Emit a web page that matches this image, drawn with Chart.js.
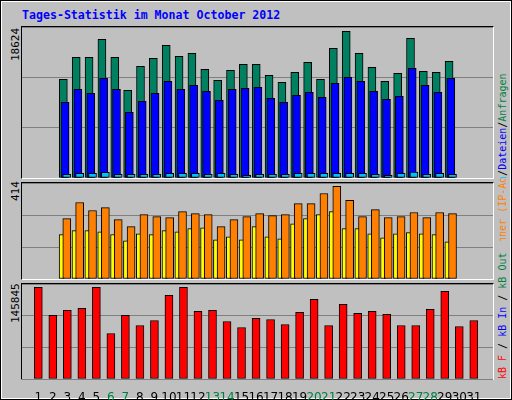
<!DOCTYPE html>
<html>
<head>
<meta charset="utf-8">
<script src="https://cdn.jsdelivr.net/npm/chart.js@4"></script>
<style>
  body { margin: 0; background: #fff; }
  #frame { position: absolute; left: 0; top: 0; width: 508px; height: 396px; background: #c0c0c0;
    border: 2px solid #fff; outline: 1px solid #000; outline-offset: -1px; box-sizing: content-box; }
  .panel { position: absolute; border-top: 1px solid #000; border-left: 1px solid #000;
    border-right: 1px solid #fff; border-bottom: 1px solid #fff; }
  canvas { position: absolute; left: 0; top: 0; }
  .rot { position: absolute; transform-origin: 0 0; transform: rotate(-90deg); white-space: nowrap;
    font: 10px "DejaVu Sans Mono", monospace; }
  .clip { position: absolute; overflow: hidden; }
  #title { position: absolute; left: 20px; top: 6px; color: #0000ff;
    font: bold 11.6px "DejaVu Sans Mono", monospace; }
</style>
</head>
<body>
<div id="frame">
  <div id="title">Tages-Statistik im Monat October 2012</div>
  <div class="panel" style="left:19px;top:24px;width:471px;height:151px"><canvas id="c1"></canvas></div>
  <div class="panel" style="left:19px;top:180px;width:471px;height:96px"><canvas id="c2"></canvas></div>
  <div class="panel" style="left:19px;top:281px;width:471px;height:95px"></div>
  <canvas id="c3" style="left:20px;top:282px"></canvas>

  <div class="rot" style="left:7px;top:59px;font-size:11px">18624</div>
  <div class="rot" style="left:7px;top:199px;font-size:11px">414</div>
  <div class="rot" style="left:7px;top:321px;font-size:11px">145845</div>

  <div class="clip" style="left:494px;top:25px;width:14px;height:152px">
    <div class="rot" style="left:1px;top:185px"><span style="color:#00c0ff">Seiten</span>/<span style="color:#0000ff">Dateien</span>/<span style="color:#008040">Anfragen</span></div>
  </div>
  <div class="clip" style="left:494px;top:177px;width:14px;height:62px">
    <div class="rot" style="left:1px;top:82px"><span style="color:#ff8000">Rechner (IP-Adressen)</span></div>
  </div>
  <div class="clip" style="left:494px;top:239px;width:14px;height:140px">
    <div class="rot" style="left:1px;top:138px"><span style="color:#ff0000">kB F</span> / <span style="color:#0000ff">kB In</span> / <span style="color:#008040">kB Out</span></div>
  </div>
</div>
<script>
const days = Array.from({ length: 31 }, (_, i) => i + 1)
const weekendDays = [6, 7, 13, 14, 20, 21, 27, 28]

const hits = [12530, 15323, 15323, 17609, 15323, 11133, 14180, 15196, 16847, 15450, 15831, 13800, 12403, 13672, 14434, 14434,
  13037, 12148, 13418, 14688, 12530, 16466, 18624, 15831, 14053, 12275, 13291, 17736, 13545, 13418, 14815]
const files = [9609, 11260, 10752, 12657, 11260, 8339, 9736, 10752, 12276, 11260, 11768, 11006, 9863, 11260, 11387, 11514,
  10117, 9609, 10498, 10879, 10244, 12022, 12784, 12276, 11006, 9990, 10371, 13927, 11768, 10879, 12657]
const pages = [466, 593, 593, 720, 466, 466, 466, 466, 593, 593, 593, 466, 593, 466, 339, 466,
  466, 466, 593, 593, 593, 593, 593, 593, 466, 339, 593, 762, 466, 593, 466]
const visits = [198, 216, 216, 211, 198, 171, 202, 198, 216, 211, 225, 229, 175, 189, 175, 234,
  189, 180, 247, 270, 288, 301, 225, 225, 202, 184, 202, 207, 202, 198, 166]
const sites = [270, 342, 306, 319, 265, 234, 288, 279, 274, 301, 292, 288, 234, 265, 279, 292,
  283, 288, 337, 337, 382, 414, 351, 279, 310, 274, 279, 297, 274, 297, 292]
const kbytes = [145845, 101137, 109122, 112315, 145845, 72393, 101137, 85168, 93153, 133075, 145845, 107525, 109122, 91556,
  81975, 96346, 94749, 86765, 105928, 126687, 85168, 118703, 104331, 107525, 102734, 85168, 85168, 110718, 139464, 83571, 93153]

// x scale in days: 15px per day across the 471px plot
const xMin = 0.4, xMax = 31.8

function series(values, shift, color, width) {
  return {
    data: values.map((v, i) => ({ x: days[i] + shift, y: v })),
    backgroundColor: color,
    borderColor: '#000',
    borderWidth: 1,
    borderSkipped: false,
    barThickness: width,
    grouped: false
  }
}

function makeChart(id, w, h, datasets, yMax, showDays) {
  const el = document.getElementById(id)
  el.width = w
  el.height = h
  const x = {
    type: 'linear', min: xMin, max: xMax,
    display: showDays,
    grid: { display: false },
    border: { display: false }
  }
  if (showDays) {
    x.afterFit = s => { s.height = 22 }
    x.afterBuildTicks = s => { s.ticks = days.map(d => ({ value: d })) }
    x.ticks = {
      padding: 4, autoSkip: false, maxRotation: 0,
      font: { family: 'DejaVu Sans', size: 12 },
      color: c => weekendDays.includes(c.tick.value) ? '#008040' : '#000',
      callback: v => String(v)
    }
  }
  // Chart.js paints the last dataset first, so reverse to keep the first one at the back
  return new Chart(el, {
    type: 'bar',
    data: { datasets: datasets.slice().reverse() },
    options: {
      responsive: false,
      animation: false,
      devicePixelRatio: 1,
      layout: { padding: 0 },
      plugins: { legend: { display: false }, tooltip: { enabled: false } },
      scales: {
        x,
        y: {
          min: 0, max: yMax,
          afterFit: s => { s.width = 0 },
          border: { display: false },
          grid: { color: '#808080', drawTicks: false },
          ticks: { display: false, stepSize: yMax / 3 }
        }
      }
    }
  })
}

makeChart('c1', 471, 151, [
  series(hits, 0, '#008060', 8),
  series(files, 0.133, '#0000ff', 8),
  series(pages, 0.267, '#00c0ff', 8)
], 19174, false)

makeChart('c2', 471, 96, [
  series(visits, -0.133, '#ffff00', 5),
  series(sites, 0.267, '#ff8000', 8)
], 429, false)

makeChart('c3', 471, 117, [
  series(kbytes, 0, '#ff0000', 8)
], 151170, true)
</script>
</body>
</html>
